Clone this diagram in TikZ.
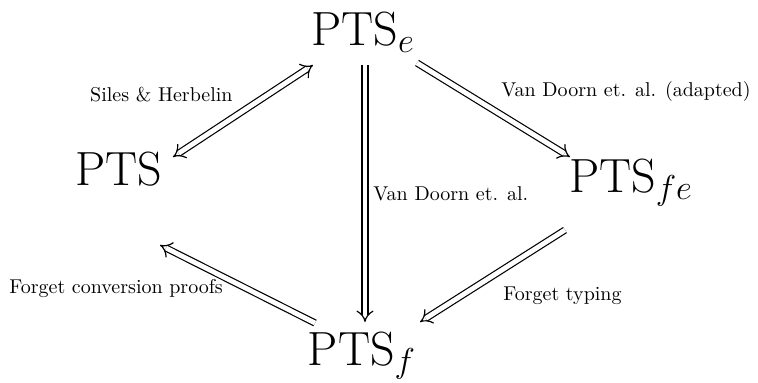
\documentclass[tikz,border=0pt]{standalone}
\usetikzlibrary{arrows.meta,calc}
\begin{document}
\begin{tikzpicture}[x=0.5pt,y=-0.5pt,
  sys/.style={inner sep=0pt,anchor=base,font=\fontsize{24}{28}\selectfont},
  lbl/.style={inner sep=0pt,font=\normalsize},
  dbl/.style={double,double distance=2.4pt,line width=0.6pt,-{Implies[scale=1.1]}},
  dblboth/.style={double,double distance=2.4pt,line width=0.6pt,{Implies[scale=1.1]}-{Implies[scale=1.1]}}]
\useasboundingbox (0,0) rectangle (758,382);

% the four systems
\node[sys] (pe)  at (363,45)  {PTS$_e$};
\node[sys] (p)   at (118.5,185) {PTS};
\node[sys] (pfe) at (631,192) {PTS$_{fe}$};
\node[sys] (pf)  at (362,365) {PTS$_f$};

% translations
\draw[dblboth] ($(p.base)+(54.5,-28)$) -- ($(pe.base)+(-50,20)$);
\draw[dbl] ($(pe.base)+(2,20)$) -- ($(pf.base)+(3,-43)$);
\draw[dbl] ($(pe.base)+(54,18)$) -- ($(pfe.base)+(-61,-35)$);
\draw[dbl] ($(pfe.base)+(-66,38)$) -- ($(pf.base)+(58,-43)$);
\draw[dbl] ($(pf.base)+(-47,-42)$) -- ($(p.base)+(41.5,60)$);

% labels
\node[lbl,anchor=base east] (l1) at (233,101) {Siles \& Herbelin};
\node[lbl,anchor=base east] (l2) at (751,96) {Van Doorn et. al. (adapted)};
\node[lbl,anchor=base west] (l3) at (373,200) {Van Doorn et. al.};
\node[lbl,anchor=base west] (l4) at (9,293) {Forget conversion proofs};
\node[lbl,anchor=base west] (l5) at (503,300) {Forget typing};
\end{tikzpicture}
\end{document}
